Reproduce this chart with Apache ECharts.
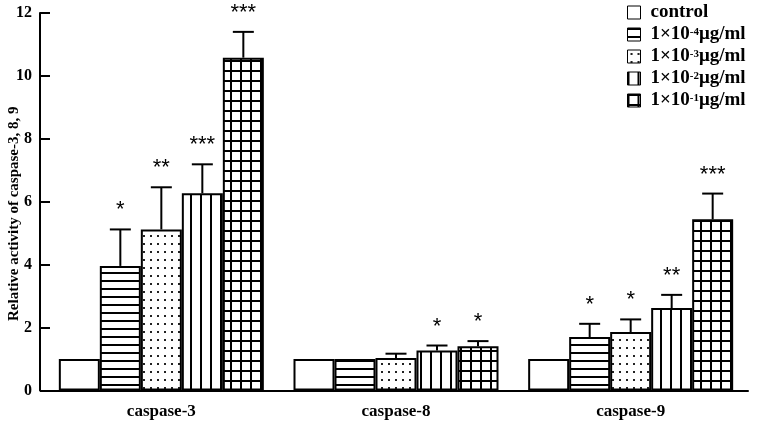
<!DOCTYPE html>
<html>
<head>
<meta charset="utf-8">
<script src="https://cdn.jsdelivr.net/npm/echarts@6/dist/echarts.min.js"></script>
<style>html,body{margin:0;padding:0;background:#fff}#c{width:760px;height:421px}</style>
</head>
<body>
<div id="c"></div>
<script>
const categories = ['caspase-3', 'caspase-8', 'caspase-9'];
const seriesNames = ['control', '1×10-4μg/ml', '1×10-3μg/ml', '1×10-2μg/ml', '1×10-1μg/ml'];
const yTicks = [0, 2, 4, 6, 8, 10, 12];

const controlVals = [1.0, 1.0, 1.0];
const conc4Vals = [3.96, 1.0, 1.70];
const conc3Vals = [5.12, 1.03, 1.86];
const conc2Vals = [6.27, 1.27, 2.62];
const conc1Vals = [10.58, 1.41, 5.44];

const controlErrTop = [null, null, null];
const conc4ErrTop = [5.12, null, 2.12];
const conc3ErrTop = [6.46, 1.17, 2.26];
const conc2ErrTop = [7.19, 1.43, 3.04];
const conc1ErrTop = [11.4, 1.57, 6.26];

const controlStars = ['', '', ''];
const conc4Stars = ['*', '', '*'];
const conc3Stars = ['**', '', '*'];
const conc2Stars = ['***', '*', '**'];
const conc1Stars = ['***', '*', '***'];

const allVals = [controlVals, conc4Vals, conc3Vals, conc2Vals, conc1Vals];
const allErr = [controlErrTop, conc4ErrTop, conc3ErrTop, conc2ErrTop, conc1ErrTop];
const allStars = [controlStars, conc4Stars, conc3Stars, conc2Stars, conc1Stars];

const BAR_W = 41;
const FONT = '"Liberation Serif", "Times New Roman", serif';

function makePattern(kind) {
  const c = document.createElement('canvas');
  const ctx = c.getContext('2d');
  if (kind === 'none') { c.width = 4; c.height = 4; ctx.fillStyle = '#fff'; ctx.fillRect(0,0,4,4); return c; }
  if (kind === 'h') {
    c.width = 8; c.height = 8;
    ctx.fillStyle = '#fff'; ctx.fillRect(0,0,8,8);
    ctx.fillStyle = '#000'; ctx.fillRect(0,0,8,2);
  } else if (kind === 'd') {
    c.width = 7; c.height = 8;
    ctx.fillStyle = '#fff'; ctx.fillRect(0,0,7,8);
    ctx.fillStyle = '#222'; ctx.fillRect(3,3,2,2);
  } else if (kind === 'v') {
    c.width = 10; c.height = 10;
    ctx.fillStyle = '#fff'; ctx.fillRect(0,0,10,10);
    ctx.fillStyle = '#000'; ctx.fillRect(0,0,2,10);
  } else if (kind === 'g') {
    c.width = 10; c.height = 10;
    ctx.fillStyle = '#fff'; ctx.fillRect(0,0,10,10);
    ctx.fillStyle = '#000'; ctx.fillRect(0,0,2,10); ctx.fillRect(0,0,10,2);
  }
  return c;
}
const patterns = ['none', 'h', 'd', 'v', 'g'].map(k => ({ image: makePattern(k), repeat: 'repeat' }));

const barSeries = seriesNames.map((name, i) => ({
  name: name,
  type: 'bar',
  barWidth: BAR_W,
  barGap: '0%',
  data: allVals[i],
  itemStyle: { color: patterns[i], borderColor: '#000', borderWidth: 2 },
  emphasis: { disabled: true },
  animation: false
}));

const errData = [];
for (let s = 0; s < 5; s++) {
  for (let c = 0; c < categories.length; c++) {
    errData.push([c, allVals[s][c], allErr[s][c] == null ? allVals[s][c] : allErr[s][c], s, allErr[s][c] == null ? 0 : 1, allStars[s][c]]);
  }
}

const errSeries = {
  type: 'custom',
  name: 'err',
  data: errData,
  z: 10,
  animation: false,
  silent: true,
  encode: { x: 0, y: 2 },
  renderItem: function (params, api) {
    const cat = api.value(0);
    const s = api.value(3);
    const hasErr = api.value(4);
    const star = errData[params.dataIndex][5];
    const off = (s - 2) * BAR_W;
    const pTop = api.coord([cat, api.value(1)]);
    const pErr = api.coord([cat, api.value(2)]);
    const x = pTop[0] + off;
    const children = [];
    if (hasErr) {
      children.push({ type: 'line', shape: { x1: x, y1: pTop[1], x2: x, y2: pErr[1] }, style: { stroke: '#000', lineWidth: 2 } });
      children.push({ type: 'line', shape: { x1: x - 10.5, y1: pErr[1], x2: x + 10.5, y2: pErr[1] }, style: { stroke: '#000', lineWidth: 2 } });
    }
    if (star) {
      children.push({ type: 'text', style: { text: star, x: x, y: pErr[1] - 8, textAlign: 'center', textVerticalAlign: 'bottom', font: '22px "Liberation Sans", Arial, sans-serif', fill: '#000' } });
    }
    return { type: 'group', children: children };
  }
};

const chart = echarts.init(document.getElementById('c'));
chart.setOption({
  backgroundColor: '#fff',
  animation: false,
  grid: { left: 44, right: 12, top: 13, bottom: 30.5, containLabel: false, outerBoundsMode: 'none' },
  legend: {
    data: seriesNames,
    orient: 'vertical',
    left: 627,
    top: 3,
    padding: 0,
    itemWidth: 13,
    itemHeight: 13,
    itemGap: 3,
    selectedMode: false,
    icon: 'rect',
    itemStyle: { borderWidth: 1, borderColor: '#000' },
    formatter: function (name) {
      const m = name.match(/^(1×10)(-\d)(μg\/ml)$/);
      if (!m) return '{b|' + name + '}';
      return '{b|' + m[1] + '}{s|' + m[2] + '}{b|' + m[3] + '}';
    },
    textStyle: {
      padding: [0, 0, 0, 5],
      rich: {
        b: { fontFamily: FONT, fontWeight: 'bold', fontSize: 19, color: '#000', lineHeight: 16 },
        s: { fontFamily: FONT, fontWeight: 'bold', fontSize: 11, color: '#000', verticalAlign: 'top', lineHeight: 9 }
      }
    }
  },
  xAxis: {
    type: 'category',
    data: categories,
    axisLine: { lineStyle: { color: '#000', width: 2 } },
    axisTick: { alignWithLabel: true, length: 10, lineStyle: { color: '#000', width: 2 } },
    axisLabel: { color: '#000', fontFamily: FONT, fontWeight: 'bold', fontSize: 17, margin: 13 }
  },
  yAxis: {
    type: 'value',
    min: 0,
    max: 12,
    interval: 2,
    offset: 4,
    name: 'Relative activity of caspase-3, 8, 9',
    nameLocation: 'middle',
    nameGap: 18,
    nameMoveOverlap: false,
    nameTextStyle: { color: '#000', fontFamily: FONT, fontWeight: 'bold', fontSize: 15, padding: [0, 24, 0, 0] },
    axisLine: { show: true, lineStyle: { color: '#000', width: 2 } },
    axisTick: { show: true, inside: true, length: 10, lineStyle: { color: '#000', width: 2 } },
    axisLabel: { color: '#000', fontFamily: FONT, fontWeight: 'bold', fontSize: 16, margin: 8,
      formatter: function (v) { return yTicks.indexOf(v) >= 0 ? String(v) : ''; } },
    splitLine: { show: false }
  },
  series: barSeries.concat([errSeries])
});
</script>
</body>
</html>
